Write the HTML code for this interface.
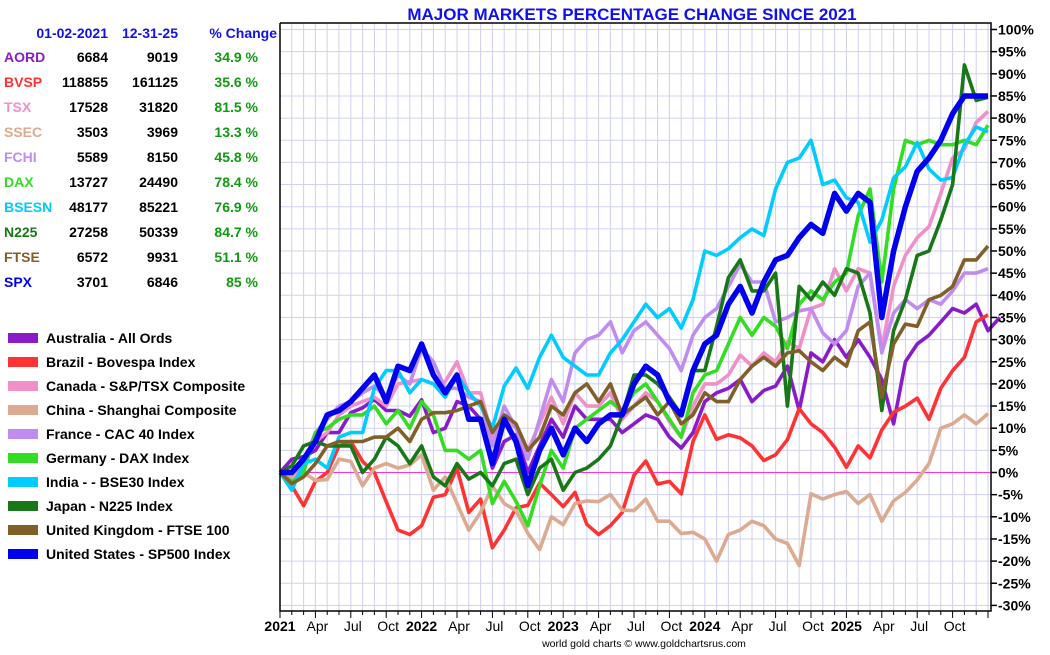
<!DOCTYPE html>
<html><head><meta charset="utf-8">
<style>
body{margin:0;background:#fff;width:1050px;height:650px;overflow:hidden;font-family:"Liberation Sans",Arial,sans-serif;}
svg text{font-family:"Liberation Sans",Arial,sans-serif;}
</style></head>
<body>
<svg id="chart" width="1050" height="650" xmlns="http://www.w3.org/2000/svg">
<text x="632" y="20" text-anchor="middle" font-size="17" font-weight="bold" fill="#1010ee">MAJOR MARKETS PERCENTAGE CHANGE SINCE 2021</text>
<g id="grid"></g>
<g id="series"></g>
<g id="axes"></g>
<g id="table"></g>
<g id="legend"></g>
<text x="644" y="647" text-anchor="middle" font-size="10.5" fill="#000">world gold charts © www.goldchartsrus.com</text>
</svg>
<script>
const seriesNames=["Australia - All Ords","Brazil - Bovespa Index","Canada - S&P/TSX Composite","China - Shanghai Composite","France - CAC 40 Index","Germany - DAX Index","India -  - BSE30 Index","Japan - N225 Index","United Kingdom - FTSE 100","United States - SP500 Index"];
const codes=["AORD","BVSP","TSX","SSEC","FCHI","DAX","BSESN","N225","FTSE","SPX"];
const startVals=["6684","118855","17528","3503","5589","13727","48177","27258","6572","3701"];
const endVals=["9019","161125","31820","3969","8150","24490","85221","50339","9931","6846"];
const pctVals=["34.9 %","35.6 %","81.5 %","13.3 %","45.8 %","78.4 %","76.9 %","84.7 %","51.1 %","85 %"];
const yTicks=[-30,-25,-20,-15,-10,-5,0,5,10,15,20,25,30,35,40,45,50,55,60,65,70,75,80,85,90,95,100];
const xLabels=["2021","Apr","Jul","Oct","2022","Apr","Jul","Oct","2023","Apr","Jul","Oct","2024","Apr","Jul","Oct","2025","Apr","Jul","Oct"];
const xLabelMonths=[0,3,6,9,12,15,18,21,24,27,30,33,36,39,42,45,48,51,54,57];
// monthly % change values (index 0 = 01-02-2021, index i = end of month i)
const aord=[0,3,3.6,5,9,9,13.5,14.6,16.5,14,14,12.7,16.4, 9,10,16,15,12,1,7,8.5,0,6,12,8, 15,12,12,12,9,11,13,12,8,5.5,9,16, 18,19,21,16,18.5,19.5,24,14,27,25,30,26, 30,26,21,11,25,29,31,34,37,36,38,32,35];
const bvsp=[0,-3,-7.5,-2,0,6,7,2.5,0,-6.6,-13,-14,-12, -5.6,-5,1,-9,-6,-17,-13,-8,-7.4,-2.4,-5,-7.7, -4.5,-11.7,-14,-12,-9,-0.6,2.6,-2.6,-2,-4.8,7,13, 7.5,8.5,7.8,6,2.7,4,7.4,14.4,11,9,5.7,1.2, 6,3.3,9.6,13.6,15,16.8,12,19,23,26,34,35.6];
const tsx=[0,-1,3,7,9,13,15,16,17,15,20,20.5,21, 20,20.5,25,18,18,8,12,10,5,11,17,11, 18,15,15,18,12,15,18,16,11.5,8,15,20, 20,22,26.5,24,27,25,29.5,28,37,38,46,41, 46,45,28,42,49,53,55.5,63,71,73,79,81.5];
const ssec=[0,-0.6,0,-1.8,-1.6,3,2.5,-3,1,2,1,1.7,4, -4,-1,-7,-13,-9,-3,-7,-8.6,-13.7,-17.4,-10,-11.8, -7,-6.4,-6.6,-5,-8.5,-8.6,-6,-11,-11,-13.8,-13.5,-15, -20,-14,-13,-11,-12,-15,-16,-21,-4.8,-6,-5,-4.3, -7,-5,-11,-6.4,-4.5,-1.7,2,10,11,13,11,13.3];
const fchi=[0,-3,2,9,12,15,16,18,19.5,17,22,20,28, 25,19,19,17,16,6,15,10,3,12,21,16, 27,30,31,34,27,32,34,31,28,23,31,35, 37,42,47,43,43,34,35,36.5,37,31.5,29,32, 42,45,27,36,39,37,39,38,41,45,45,46];
const dax=[0,-2,0,9,10,12,13,13,15,11,14,10,16, 13,5,5,3,5,-7,-2,-6.5,-12,-3,5,1, 10,12,14,16,14,18,20,16,12,8,18,22, 23,29,35,31,35,33,28,38,41,39,43,45, 58,64,43,64,75,74,75,74,74,75,74,78.4];
const bsesn=[0,-4,2,3,1,8,9,9,19,23,23,18,21, 20,17,22,18,15,10,19.5,23.6,19,26,31,26, 24,22,22,27,30,34,38,35,37,32.6,39,50, 49,50.5,53,55,53.5,64,70,71,75,65,66,62, 61,52,57,66.5,69,74.5,68.5,66,66.6,74,78,76.9];
const n225=[0,1.5,6,7,6,6,6,0,3,8,6,2,6, -1,-3,2,-1.5,0,-3,2,3,-5,1,3,-4, 0,1,3,6,13,22,22,20,17,13,23,23, 33,44,48,41,41,45,15,42,39,43,40,46, 45,36,14,32,39,49,50,57,65,92,84,84.7];
const ftse=[0,-2.5,-1,2,6,7,7,7,8,8,10,7,12, 13.5,13.5,14,15,16,9,13,11,5,8,15,13, 18,20,16,20,13,15,17,13,16,11,13,18, 16,16,21,24,26,24,27,27.5,25,23,26,24, 32,34,17,29,33.5,33,39,40,42,48,48,51.1];
const spx=[0,0,3,7,13,14,16,19,22,16,24,23,29, 22,18,22,12,12,2,12,7,-3,5,10,4, 10,7,11,13,13,20,24,22,16,13,23,29, 31,38,42,36,43,48,49,53,56,54,63,59, 63,61,35,50,60,68,71,75,81,85,85,85];
const allSeries=[aord,bvsp,tsx,ssec,fchi,dax,bsesn,n225,ftse,spx];
const colors=["#8a1bc8","#ff3333","#f090c8","#dcaa90","#c08cf0","#33dd22","#00ccff","#187818","#806028","#0000ee"];
const widths=[3.6,3.6,3.6,3.6,3.6,3.6,3.6,3.6,3.6,5.5];

const NS="http://www.w3.org/2000/svg";
const X0=280,X1=991,MW=11.8,Y0=472.5,PY=4.43,TOP=23,BOT=611;
const xs=m=>X0+m*MW;
const ys=v=>Y0-v*PY;
function mk(tag,attrs,parent,txt){const e=document.createElementNS(NS,tag);for(const k in attrs)e.setAttribute(k,attrs[k]);if(txt!==undefined)e.textContent=txt;parent.appendChild(e);return e;}
const grid=document.getElementById('grid'),axes=document.getElementById('axes'),ser=document.getElementById('series');
for(let m=1;m<=60;m++){const l=mk('line',{x1:xs(m),x2:xs(m),y1:TOP,y2:BOT,stroke:'#d0d0f0','stroke-width':1},grid);

}
yTicks.forEach(t=>{const l=mk('line',{x1:X0,x2:X1,y1:ys(t),y2:ys(t),stroke:t===0?'#ff33dd':'#d0d0f0','stroke-width':1},grid);


const tk=mk('line',{x1:X1,x2:X1+6,y1:ys(t),y2:ys(t),stroke:'#000','stroke-width':1.5},axes);


const tx=mk('text',{x:X1+7,y:ys(t)+5,'font-size':14,'font-weight':'bold',fill:'#000'},axes,t+'%');

});
const fr=mk('polyline',{points:`${X0},${TOP} ${X0},${BOT} ${X1},${BOT} ${X1},${TOP} ${X0},${TOP}`,fill:'none',stroke:'#000','stroke-width':1.5},axes);


for(let m=0;m<=60;m++){const t=mk('line',{x1:xs(m),x2:xs(m),y1:BOT,y2:BOT+(m%3===0?7:4),stroke:'#000','stroke-width':1},axes);

}
xLabels.forEach((s,i)=>{const yr=/^\d/.test(s);const t=mk('text',{x:xs(xLabelMonths[i])+(yr?0:2),y:631,'text-anchor':'middle','font-size':14,'font-weight':yr?'bold':'normal',fill:'#000'},axes,s);

});
allSeries.forEach((arr,si)=>{const pts=arr.map((v,i)=>xs(i).toFixed(1)+','+ys(v).toFixed(1)).join(' ');
const p=mk('polyline',{points:pts,fill:'none',stroke:colors[si],'stroke-width':widths[si],'stroke-linejoin':'round'},ser);

});
const tb=document.getElementById('table');
[["01-02-2021",108],["12-31-25",178],["% Change",277]].forEach(h=>{const t=mk('text',{x:h[1],y:38,'text-anchor':'end','font-size':14,'font-weight':'bold',fill:'#1010ee'},tb,h[0]);

});
codes.forEach((c,i)=>{const y=62+i*25;
const a=mk('text',{x:4,y:y,'font-size':14,'font-weight':'bold',fill:colors[i]},tb,c);


const b=mk('text',{x:108,y:y,'text-anchor':'end','font-size':14,'font-weight':'bold',fill:'#000'},tb,startVals[i]);


const d=mk('text',{x:178,y:y,'text-anchor':'end','font-size':14,'font-weight':'bold',fill:'#000'},tb,endVals[i]);


const e=mk('text',{x:258,y:y,'text-anchor':'end','font-size':14,'font-weight':'bold',fill:'#109a10'},tb,pctVals[i]);

});
const lg=document.getElementById('legend');
seriesNames.forEach((n,i)=>{const y=338+i*24;
const r=mk('rect',{x:8,y:y-5,width:30,height:10,fill:colors[i]},lg);


const t=mk('text',{x:46,y:y+5,'font-size':14,'font-weight':'bold',fill:'#000'},lg,n);

});
</script>
</body></html>
